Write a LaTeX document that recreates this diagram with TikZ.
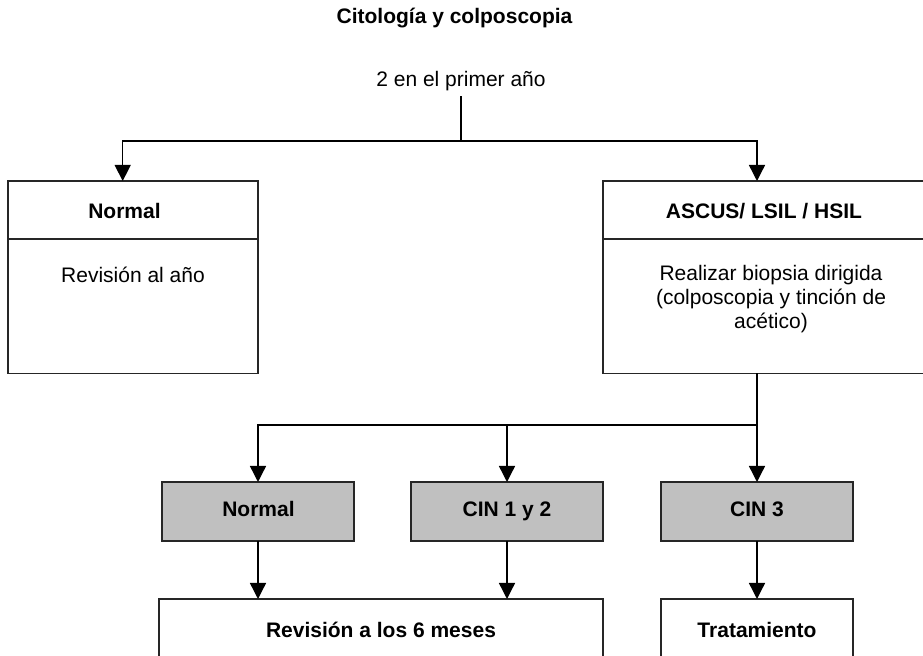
\documentclass[tikz,border=0pt]{standalone}
\usepackage{fontspec}
\setmainfont{Liberation Sans}
\usetikzlibrary{arrows.meta}
\definecolor{boxgray}{HTML}{C0C0C0}
\tikzset{
  conn/.style={line width=0.7pt, draw=black},
  arr/.style={conn, -{Triangle[width=8pt,length=8pt]}},
  box/.style={draw=black!85, line width=0.7pt, inner sep=0pt, outer sep=0pt, anchor=north west},
  graybox/.style={box, fill=boxgray},
  txt/.style={anchor=base, inner sep=0pt},
  btxt/.style={txt, font=\bfseries},
}
\begin{document}
\begin{tikzpicture}[x=0.5pt,y=-0.5pt]
\fontsize{10.5pt}{12pt}\selectfont
\useasboundingbox (0,0) rectangle (923,656);
\clip (0,0) rectangle (923,656);
% title and start
\node[btxt] (title) at (454.5,24) {Citología y colposcopia};
\node[txt] (start) at (461,87) {2 en el primer año};
\coordinate (split) at (461,141);
% top boxes
\node[box, minimum width=125pt, minimum height=29pt] (lhead) at (8,181) {};
\node[box, minimum width=125pt, minimum height=67.25pt] (lbody) at (8,239) {};
\node[box, minimum width=168pt, minimum height=29pt] (rhead) at (603,181) {};
\node[box, minimum width=168pt, minimum height=67.25pt] (rbody) at (603,239) {};
\node[btxt] (lheadt) at (124.5,219) {Normal};
\node[txt] (lbodyt) at (133,283) {Revisión al año};
\node[btxt] (rheadt) at (764,219) {ASCUS/ LSIL / HSIL};
\node[txt, align=center] (rbodyt) at (771,329) {Realizar biopsia dirigida\\(colposcopia y tinción de\\acético)};
% second level
\node[graybox, minimum width=96pt, minimum height=29.5pt] (g1) at (162,482) {};
\node[graybox, minimum width=96pt, minimum height=29.5pt] (g2) at (411,482) {};
\node[graybox, minimum width=96pt, minimum height=29.5pt] (g3) at (661,482) {};
\node[btxt] (g1t) at (258.5,517) {Normal};
\node[btxt] (g2t) at (507,517) {CIN 1 y 2};
\node[btxt] (g3t) at (757,517) {CIN 3};
% bottom
\node[box, minimum width=222pt, minimum height=50.5pt] (rev6) at (159,599) {};
\node[box, minimum width=96pt, minimum height=50.5pt] (trat) at (661,599) {};
\node[btxt] (rev6t) at (381,638) {Revisión a los 6 meses};
\node[btxt] (tratt) at (757,638) {Tratamiento};
% connectors
\draw[conn, shorten <=2.2pt] (start.south) -- (split);
\draw[arr] (split) -| ([xshift=-5.15pt]lhead.north);
\draw[arr] (split) -| ([xshift=-7pt]rhead.north);
\coordinate (split2) at (757,425);
\draw[conn] ([xshift=-7pt]rbody.south) -- (split2);
\draw[arr] (split2) -| (g1.north);
\draw[arr] (split2) -| (g2.north);
\draw[arr] (split2) -- (g3.north);
\draw[arr] (g1.south) -- (g1.south |- rev6.north);
\draw[arr] (g2.south) -- (g2.south |- rev6.north);
\draw[arr] (g3.south) -- (trat.north);
\end{tikzpicture}
\end{document}
